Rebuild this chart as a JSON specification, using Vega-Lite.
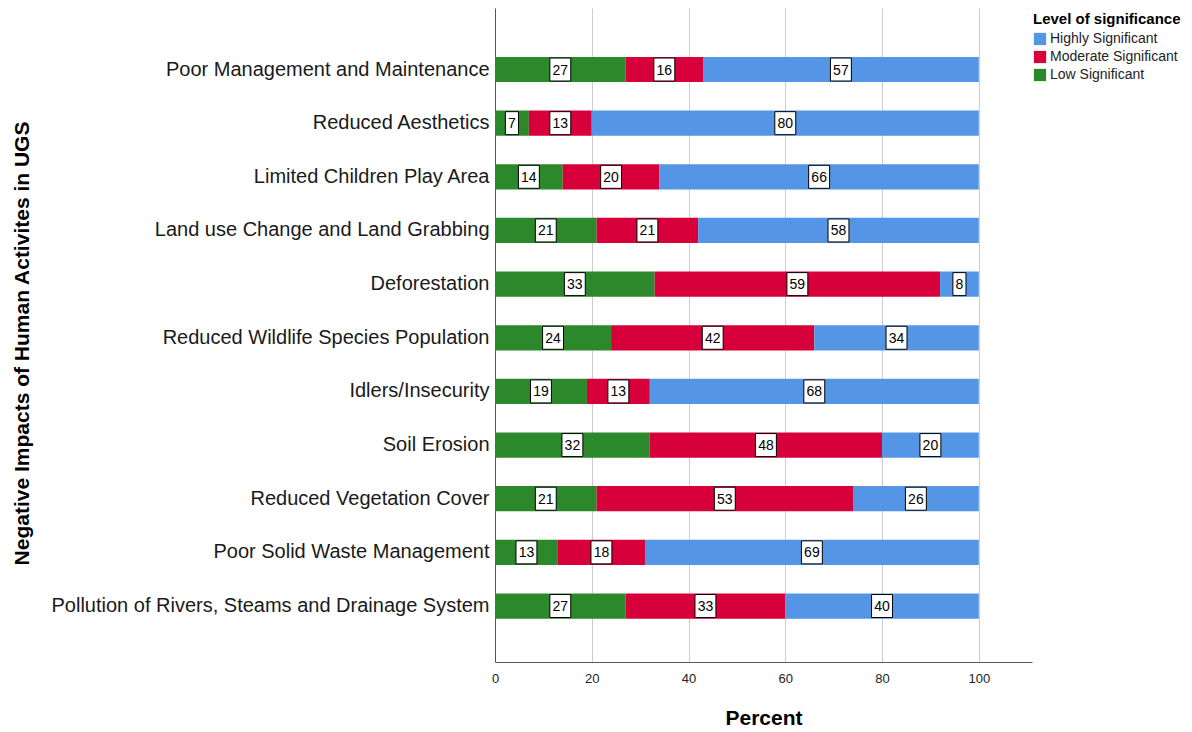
{
  "$schema": "https://vega.github.io/schema/vega-lite/v6.json",
  "width": 537,
  "height": 654,
  "autosize": {"type": "none"},
  "padding": {"left": 495, "top": 8, "right": 160, "bottom": 70},
  "background": "white",
  "config": {
    "font": "Liberation Sans",
    "view": {"stroke": null},
    "axis": {"labelFont": "Liberation Sans", "titleFont": "Liberation Sans"}
  },
  "data": {
    "values": [
      {"impact": "Poor Management and Maintenance", "level": "Low Significant", "pct": 27},
      {"impact": "Poor Management and Maintenance", "level": "Moderate Significant", "pct": 16},
      {"impact": "Poor Management and Maintenance", "level": "Highly Significant", "pct": 57},
      {"impact": "Reduced Aesthetics", "level": "Low Significant", "pct": 7},
      {"impact": "Reduced Aesthetics", "level": "Moderate Significant", "pct": 13},
      {"impact": "Reduced Aesthetics", "level": "Highly Significant", "pct": 80},
      {"impact": "Limited Children Play Area", "level": "Low Significant", "pct": 14},
      {"impact": "Limited Children Play Area", "level": "Moderate Significant", "pct": 20},
      {"impact": "Limited Children Play Area", "level": "Highly Significant", "pct": 66},
      {"impact": "Land use Change and Land Grabbing", "level": "Low Significant", "pct": 21},
      {"impact": "Land use Change and Land Grabbing", "level": "Moderate Significant", "pct": 21},
      {"impact": "Land use Change and Land Grabbing", "level": "Highly Significant", "pct": 58},
      {"impact": "Deforestation", "level": "Low Significant", "pct": 33},
      {"impact": "Deforestation", "level": "Moderate Significant", "pct": 59},
      {"impact": "Deforestation", "level": "Highly Significant", "pct": 8},
      {"impact": "Reduced Wildlife Species Population", "level": "Low Significant", "pct": 24},
      {"impact": "Reduced Wildlife Species Population", "level": "Moderate Significant", "pct": 42},
      {"impact": "Reduced Wildlife Species Population", "level": "Highly Significant", "pct": 34},
      {"impact": "Idlers/Insecurity", "level": "Low Significant", "pct": 19},
      {"impact": "Idlers/Insecurity", "level": "Moderate Significant", "pct": 13},
      {"impact": "Idlers/Insecurity", "level": "Highly Significant", "pct": 68},
      {"impact": "Soil Erosion", "level": "Low Significant", "pct": 32},
      {"impact": "Soil Erosion", "level": "Moderate Significant", "pct": 48},
      {"impact": "Soil Erosion", "level": "Highly Significant", "pct": 20},
      {"impact": "Reduced Vegetation Cover", "level": "Low Significant", "pct": 21},
      {"impact": "Reduced Vegetation Cover", "level": "Moderate Significant", "pct": 53},
      {"impact": "Reduced Vegetation Cover", "level": "Highly Significant", "pct": 26},
      {"impact": "Poor Solid Waste Management", "level": "Low Significant", "pct": 13},
      {"impact": "Poor Solid Waste Management", "level": "Moderate Significant", "pct": 18},
      {"impact": "Poor Solid Waste Management", "level": "Highly Significant", "pct": 69},
      {"impact": "Pollution of Rivers, Steams and Drainage System", "level": "Low Significant", "pct": 27},
      {"impact": "Pollution of Rivers, Steams and Drainage System", "level": "Moderate Significant", "pct": 33},
      {"impact": "Pollution of Rivers, Steams and Drainage System", "level": "Highly Significant", "pct": 40}
    ]
  },
  "transform": [
    {"calculate": "indexof(['Low Significant','Moderate Significant','Highly Significant'], datum.level)", "as": "ord"},
    {"stack": "pct", "groupby": ["impact"], "sort": [{"field": "ord", "order": "ascending"}], "as": ["x0", "x1"]},
    {"calculate": "(datum.x0 + datum.x1) / 2", "as": "mid"}
  ],
  "encoding": {
    "y": {
      "field": "impact",
      "type": "nominal",
      "sort": null,
      "scale": {"paddingInner": 0.53, "paddingOuter": 0.86, "align": 0.53},
      "axis": {
        "title": "Negative Impacts of Human Activites in UGS",
        "titleFontSize": 21,
        "titleFontWeight": "bold",
        "titleColor": "#000",
        "titleAngle": -90,
        "titleX": -473,
        "titleY": 335,
        "titleAlign": "center",
        "titleBaseline": "middle",
        "labelFontSize": 20,
        "labelColor": "#1a1a1a",
        "labelLimit": 600,
        "labelPadding": 6,
        "ticks": false,
        "domainColor": "#555",
        "domainWidth": 1
      }
    }
  },
  "layer": [
    {
      "mark": {"type": "bar", "stroke": null},
      "encoding": {
        "x": {
          "field": "x0",
          "type": "quantitative",
          "scale": {"domain": [0, 111], "nice": false},
          "axis": {
            "title": "Percent",
            "titleFontSize": 21,
            "titleFontWeight": "bold",
            "titleColor": "#000",
            "titleY": 56,
            "titleBaseline": "middle",
            "values": [0, 20, 40, 60, 80, 100],
            "labelFontSize": 13,
            "labelColor": "#222",
            "labelPadding": 10,
            "labelFlush": false,
            "ticks": false,
            "grid": true,
            "gridColor": "#cccccc",
            "gridWidth": 1,
            "domainColor": "#555",
            "domainWidth": 1
          }
        },
        "x2": {"field": "x1"},
        "color": {
          "field": "level",
          "type": "nominal",
          "scale": {
            "domain": ["Highly Significant", "Moderate Significant", "Low Significant"],
            "range": ["#5595e5", "#d7003a", "#2b882b"]
          },
          "legend": {
            "title": "Level of significance",
            "orient": "none",
            "legendX": 538,
            "legendY": 4,
            "titleFontSize": 15,
            "titleFontWeight": "bold",
            "titleColor": "#000",
            "titlePadding": 5,
            "labelFontSize": 14,
            "labelColor": "#222",
            "symbolType": "square",
            "symbolSize": 150,
            "symbolStrokeWidth": 0,
            "symbolOpacity": 1,
            "rowPadding": 4,
            "labelOffset": 3
          }
        }
      }
    },
    {
      "mark": {"type": "point", "filled": true, "fill": "white", "stroke": "black", "strokeWidth": 1, "opacity": 1, "size": 529},
      "encoding": {
        "x": {"field": "mid", "type": "quantitative"},
        "shape": {
          "condition": {"test": "datum.pct < 10", "value": "M-0.57,-1H0.57V1H-0.57Z"},
          "value": "M-0.91,-1H0.91V1H-0.91Z"
        }
      }
    },
    {
      "mark": {"type": "text", "fontSize": 14, "color": "#000", "align": "center", "baseline": "middle", "dy": 1},
      "encoding": {
        "x": {"field": "mid", "type": "quantitative"},
        "text": {"field": "pct", "type": "quantitative"}
      }
    }
  ]
}
